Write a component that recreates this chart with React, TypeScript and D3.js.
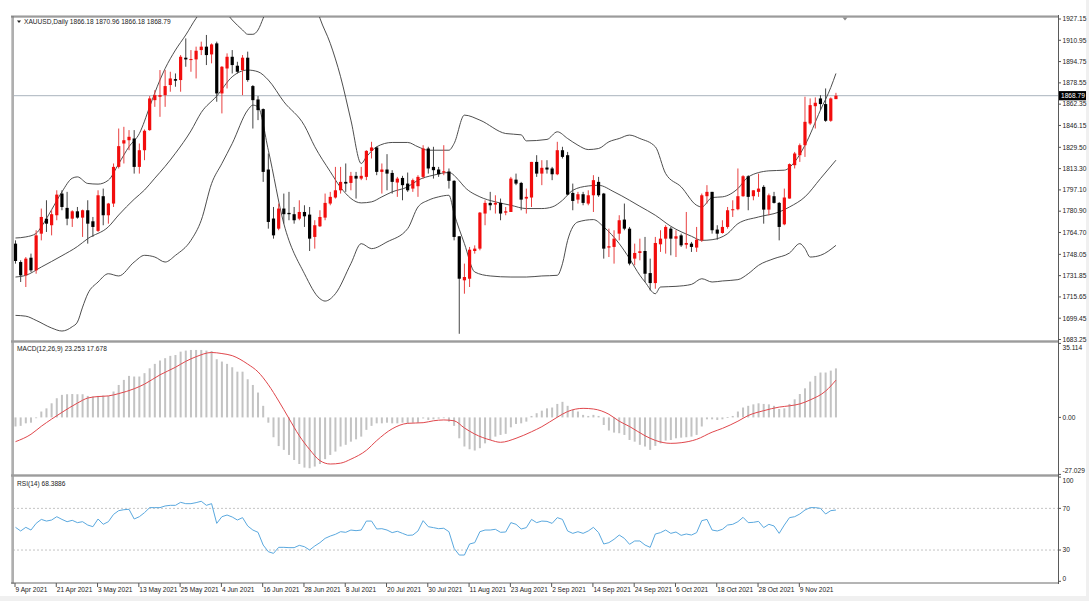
import React from "react";
import * as d3 from "d3";

// ---------- candle data (XAUUSD Daily, 9 Apr 2021 .. 18 Nov 2021) ----------
const opens = [1756.2,1742.2,1732.1,1745.5,1735.9,1763.8,1775.2,1770.2,1777.8,1794.3,1783.4,1775.2,1780.8,1776.0,1781.6,1773.2,1765.9,1792.3,1777.8,1786.7,
1814.6,1832.4,1834.9,1836.2,1814.6,1827.3,1842.6,1865.4,1868.0,1869.2,1876.9,1881.4,1880.7,1897.7,1895.9,1896.4,1903.5,1906.1,1900.2,1908.6,
1870.5,1889.5,1898.4,1891.6,1888.3,1897.7,1876.1,1865.9,1858.6,1812.6,1775.3,1767.6,1782.9,1779.6,1778.6,1775.2,1780.3,1778.3,1761.3,1769.4,
1776.0,1786.7,1791.3,1796.8,1803.2,1802.4,1807.8,1805.7,1807.0,1826.8,1829.4,1810.8,1812.6,1810.0,1802.7,1806.2,1801.9,1798.1,1799.9,1807.0,
1828.6,1814.6,1812.6,1810.3,1811.1,1804.0,1761.8,1728.3,1729.5,1750.6,1752.4,1779.1,1787.2,1785.9,1787.2,1779.8,1780.3,1804.9,1802.4,1790.5,
1791.3,1818.4,1809.5,1814.1,1813.4,1809.0,1827.3,1823.5,1794.8,1789.7,1793.8,1786.7,1793.0,1803.2,1794.3,1753.2,1753.7,1763.8,1774.5,1767.6,
1744.8,1749.1,1750.6,1733.8,1726.2,1755.7,1760.0,1767.6,1760.0,1762.5,1755.4,1756.2,1753.2,1758.7,1792.3,1795.6,1766.9,1764.3,1768.9,1781.6,
1782.4,1792.3,1807.5,1792.3,1795.6,1799.4,1782.1,1792.3,1787.2,1770.9,1790.5,1815.9,1823.5,1831.1,1847.6,1860.8,1866.7,1862.4,1849.7,1866.18];
const highs = [1758.7,1743.5,1746.0,1748.6,1766.4,1782.9,1789.2,1781.6,1796.8,1796.8,1795.6,1781.6,1784.1,1782.1,1789.2,1776.5,1796.8,1798.1,1787.2,1817.2,
1843.8,1845.1,1842.6,1842.6,1832.4,1843.1,1868.5,1873.0,1888.3,1888.3,1887.0,1885.7,1899.7,1912.4,1903.5,1906.1,1909.9,1915.0,1908.6,1909.9,
1891.3,1901.0,1903.5,1894.6,1899.7,1902.3,1876.9,1868.5,1859.1,1824.8,1784.1,1786.7,1794.3,1795.6,1784.1,1789.2,1785.4,1784.1,1774.0,1781.6,
1794.3,1795.6,1814.6,1814.6,1817.2,1810.8,1810.8,1814.6,1827.3,1833.7,1829.9,1817.2,1824.3,1812.1,1807.0,1807.8,1810.3,1805.7,1808.3,1831.1,
1829.9,1829.9,1814.6,1831.1,1813.4,1804.5,1761.8,1741.0,1753.7,1754.9,1780.3,1789.2,1795.6,1793.0,1790.5,1784.1,1807.0,1809.5,1803.2,1798.1,
1818.4,1823.5,1819.7,1819.7,1814.6,1833.7,1829.9,1826.0,1801.9,1795.6,1795.6,1796.8,1808.3,1807.0,1794.8,1767.6,1766.4,1777.8,1786.7,1768.9,
1756.2,1760.0,1761.3,1744.8,1761.3,1766.4,1770.2,1768.9,1766.4,1763.8,1780.3,1757.5,1768.9,1794.3,1800.7,1795.6,1770.2,1774.0,1784.1,1789.2,
1813.4,1808.3,1808.3,1796.8,1809.5,1800.7,1794.3,1795.6,1787.9,1798.1,1817.2,1826.0,1832.4,1868.0,1866.7,1867.5,1869.2,1874.3,1867.5,1870.96];
const lows = [1741.0,1727.0,1723.2,1734.6,1733.3,1758.7,1765.1,1762.5,1774.0,1781.6,1770.2,1768.9,1775.2,1761.3,1756.2,1761.3,1765.1,1770.2,1771.4,1784.1,
1813.4,1817.2,1827.3,1809.5,1809.5,1819.7,1842.1,1860.3,1852.7,1860.3,1871.8,1875.6,1871.8,1890.8,1887.0,1881.9,1899.7,1892.1,1893.4,1864.2,
1855.3,1874.3,1885.7,1885.7,1869.2,1879.4,1843.8,1850.2,1803.2,1767.6,1760.0,1766.4,1771.4,1774.0,1771.4,1774.0,1768.9,1750.6,1752.4,1768.9,
1774.0,1785.4,1790.5,1794.3,1795.6,1796.8,1790.5,1804.5,1804.5,1821.0,1808.3,1794.3,1796.8,1794.3,1791.8,1789.2,1795.6,1795.6,1791.8,1805.7,
1809.5,1805.7,1807.0,1808.3,1798.1,1758.7,1687.6,1718.1,1723.2,1748.6,1751.1,1770.2,1781.6,1779.1,1774.0,1777.8,1780.3,1800.7,1781.6,1779.1,
1784.1,1807.0,1800.7,1809.5,1804.5,1808.3,1821.0,1793.0,1781.6,1786.7,1785.4,1785.4,1780.3,1791.8,1744.8,1746.0,1741.0,1758.7,1766.4,1739.7,
1739.7,1743.5,1727.0,1720.6,1721.9,1749.9,1748.6,1747.3,1746.0,1753.7,1752.4,1749.9,1749.9,1757.5,1786.7,1763.8,1759.2,1763.8,1767.6,1776.5,
1781.6,1791.8,1781.6,1789.2,1791.8,1771.4,1777.8,1786.7,1758.7,1770.2,1790.5,1813.4,1818.4,1822.2,1846.4,1843.8,1857.8,1848.9,1848.9,1866.18];
const closes = [1743.0,1732.1,1744.8,1735.9,1762.5,1776.5,1771.4,1778.6,1793.5,1784.1,1775.2,1780.8,1776.0,1781.6,1771.4,1768.9,1793.0,1777.8,1786.7,1814.6,
1830.4,1834.9,1837.5,1814.6,1827.3,1842.1,1866.7,1869.2,1869.2,1876.1,1881.9,1880.2,1898.4,1896.4,1896.7,1903.0,1906.1,1899.7,1907.8,1870.5,
1890.8,1898.4,1892.1,1887.0,1897.7,1880.7,1865.4,1857.8,1810.8,1772.7,1762.5,1782.9,1778.6,1778.6,1774.0,1780.3,1777.0,1760.0,1770.2,1776.5,
1787.2,1791.8,1796.8,1803.2,1801.9,1807.8,1805.7,1807.8,1826.8,1829.4,1810.8,1812.6,1809.5,1803.2,1805.7,1800.7,1796.8,1804.5,1807.0,1828.6,
1813.4,1812.1,1809.0,1811.3,1804.0,1761.3,1729.5,1730.8,1751.6,1752.4,1779.8,1787.2,1785.4,1787.2,1779.1,1780.8,1805.7,1801.9,1789.7,1791.8,
1818.4,1809.5,1813.9,1812.6,1809.0,1827.3,1822.2,1793.5,1788.7,1793.8,1787.2,1793.0,1804.5,1793.0,1752.4,1754.2,1760.0,1774.0,1767.6,1741.0,
1749.1,1750.4,1733.3,1726.2,1756.7,1760.0,1768.9,1760.0,1761.8,1754.9,1756.7,1753.7,1759.2,1793.0,1795.6,1766.4,1763.8,1768.9,1781.6,1782.4,
1792.3,1807.5,1791.8,1796.8,1798.1,1782.1,1793.0,1787.2,1768.9,1791.3,1816.7,1824.8,1831.1,1848.9,1861.6,1863.4,1862.4,1849.7,1866.7,1868.79];

// ---------- Bollinger bands as [bar, price] ----------
const bbUpper: [number, number][] = [[0,1760.5],[2,1761.3],[4,1764],[5,1769],[7,1782],[9,1795.6],[11,1806],[12,1807],[14,1802],[16,1801.5],[18,1804.5],[20,1817],[22,1830],[24,1840],[26,1860.3],[27,1871],[29,1889.5],[31,1903.5],[33,1915],[35,1927.7],[37,1937],[39,1938],[41,1931],[42,1926.4],[44,1918.8],[45,1915.5],[46,1915.5],[47,1918.8],[48,1927.7],[50,1948],[52,1962],[54,1966],[56,1960],[58,1940],[59,1927.7],[61,1908.6],[63,1883.2],[65,1850.2],[67,1817.2],[68,1822.2],[70,1829.9],[73,1833.2],[76,1833.2],[78,1829.9],[80,1827.3],[84,1827.3],[85,1832.4],[87,1854.0],[90,1850.2],[95,1840.0],[98,1839.0],[99,1834.4],[103,1835.5],[105,1841.3],[107,1836.2],[109,1831.1],[111,1827.8],[113,1828.6],[115,1833.7],[117,1836.2],[119,1838.8],[121,1836.2],[124,1829.9],[126,1809.5],[129,1799.4],[132,1785.4],[133,1784.1],[135,1791.3],[137,1791.8],[140,1798.1],[142,1807.0],[146,1811.6],[149,1812.1],[151,1818.4],[153,1831.1],[156,1857.8],[158,1875],[159,1885.7]];
const bbMiddle: [number, number][] = [[0,1730.8],[2,1732.1],[5,1738.4],[9,1747],[12,1754],[14,1760],[18,1769],[20,1778],[23,1790],[25,1797],[27,1806],[29,1815],[31,1825],[34,1842],[36,1856],[39,1868.5],[42,1883.2],[45,1888.3],[47,1887.0],[49,1880.7],[52,1864.2],[56,1846],[58,1830],[61,1811],[63,1799],[67,1787.2],[69,1788.0],[71,1791.8],[73,1795.6],[76,1799.4],[78,1804.5],[81,1808.3],[84,1810.3],[86,1804],[87,1799.4],[90,1791.8],[93,1788.0],[96,1785.4],[99,1782.9],[102,1782.9],[104,1784.1],[106,1789.2],[108,1796.8],[111,1800.1],[113,1800.6],[116,1795.6],[119,1789.2],[121,1784.6],[124,1777.8],[127,1769.4],[131,1761.8],[133,1758.7],[135,1759.2],[138,1763.8],[140,1771.4],[144,1776.5],[148,1780.3],[150,1784.1],[153,1791.8],[156,1805.7],[159,1819.7]];
const bbLower: [number, number][] = [[0,1701.6],[2,1701],[4,1697.8],[7,1692],[9,1689.7],[11,1693],[12,1696.5],[13,1707.9],[14,1718],[16,1727],[18,1733.3],[20,1731.6],[23,1742.2],[25,1747.3],[27,1746.0],[29,1742.2],[31,1747.3],[34,1758.7],[36,1774.0],[38,1801.9],[40,1817.2],[42,1832.4],[45,1857.8],[46,1861.6],[47,1860.3],[49,1827.3],[52,1771.4],[56,1733.3],[59,1714.3],[60,1712.5],[62,1718.1],[65,1741.0],[67,1756.2],[69,1752.4],[72,1757.5],[76,1767.6],[78,1784.1],[80,1789.2],[82,1791.8],[84,1793.0],[85,1779.1],[87,1756.2],[89,1734.6],[92,1731.6],[96,1730.8],[99,1730.8],[102,1731.6],[105,1732.1],[106,1740.9],[107,1758.7],[109,1772.7],[112,1774.5],[114,1768.9],[117,1756.2],[119,1744.8],[121,1732.1],[122,1727],[124,1718.1],[125,1723.2],[128,1723.7],[131,1725.2],[133,1729.5],[135,1727.0],[137,1727.8],[140,1728.8],[142,1733.3],[144,1739.7],[147,1744.8],[150,1749.1],[152,1756.2],[153,1752.4],[154,1746.0],[156,1747.3],[159,1754.9]];

// ---------- MACD(12,26,9) ----------
const macdMain = [-4.3,-4.0,-2.8,-2.5,-0.2,2.8,4.3,6.7,9.1,10.7,11.0,11.1,11.0,11.0,10.2,9.9,10.2,10.4,10.2,12.3,
15.4,17.8,19.7,19.4,19.4,21.0,23.3,25.4,27.0,28.1,29.2,29.6,31.2,31.7,32.0,32.0,32.0,31.7,31.5,27.6,
26.5,25.4,23.8,21.7,21.7,18.1,15.4,11.8,5.5,-2.5,-9.4,-13.6,-15.4,-17.8,-20.2,-22.1,-23.8,-24.1,-23.3,-22.1,
-19.8,-17.8,-16.2,-13.8,-13.0,-11.5,-10.4,-9.1,-5.9,-4.0,-2.8,-2.8,-2.5,-2.8,-2.8,-2.5,-2.8,-2.5,-2.5,-0.5,
-1.2,-0.9,-0.6,-0.3,-2.0,-4.0,-9.9,-13.8,-15.1,-15.7,-14.6,-12.3,-10.7,-9.1,-8.3,-7.8,-4.7,-3.1,-2.8,-2.0,
0.7,2.0,3.2,4.3,4.7,6.4,7.4,5.5,3.6,2.8,1.2,0.7,1.2,0.7,-3.6,-6.2,-7.2,-7.5,-8.3,-10.7,
-11.5,-13.0,-13.8,-15.4,-13.5,-12.3,-11.0,-10.7,-9.9,-9.6,-9.4,-9.1,-8.3,-4.3,-0.9,-0.9,-1.2,-0.9,0.1,0.7,
2.8,4.7,5.5,6.2,6.7,6.4,6.2,5.5,4.0,4.3,6.4,8.6,11.1,13.8,17.0,19.7,21.3,21.3,22.2,23.253];
const macdSignal: [number, number][] = [[0,-11.5],[3,-8.0],[5,-4.2],[7,-0.8],[9,2.4],[12,6.8],[14,9.2],[16,9.9],[18,10.2],[20,11.3],[23,13.6],[25,15.8],[28,20.2],[31,23.8],[33,26.6],[35,28.8],[38,30.8],[40,30.3],[42,29.3],[45,25.3],[47,21.6],[49,15.5],[51,7.8],[53,-0.5],[55,-8.7],[57,-15.2],[59,-20.5],[61,-22.1],[63,-21.7],[65,-19.8],[68,-15.6],[70,-11.0],[73,-5.4],[76,-2.8],[79,-2.5],[81,-1.6],[83,-1.2],[85,-1.6],[87,-5.0],[89,-7.9],[92,-10.7],[94,-11.8],[97,-9.9],[100,-6.8],[102,-4.4],[105,0.1],[107,2.8],[110,4.3],[112,4.0],[115,1.5],[117,-1.8],[119,-4.3],[122,-8.7],[124,-10.9],[127,-12.3],[129,-12.0],[132,-10.4],[135,-7.0],[137,-5.2],[140,-1.8],[142,0.9],[145,3.2],[148,4.9],[150,5.5],[152,6.4],[154,8.3],[157,12.5],[159,17.678]];

// ---------- RSI(14) ----------
const rsi = [51.8,48.3,51.8,49.2,55.6,59.4,57.8,58.8,62.0,59.4,57.2,58.5,56.3,57.2,54.0,52.4,59.8,54.7,57.2,64.2,
67.8,68.7,69.1,59.8,62.0,65.9,70.7,70.7,70.7,72.3,72.9,72.9,75.8,74.5,74.5,75.5,76.8,72.9,74.5,55.6,
62.0,63.6,61.7,58.8,61.1,53.1,49.2,47.0,34.8,28.4,26.8,32.6,32.6,32.3,32.3,34.5,33.2,30.0,33.9,37.1,
41.2,43.4,45.1,47.6,47.0,49.2,48.6,49.2,57.8,57.8,50.2,50.5,49.2,46.7,48.0,46.0,44.1,44.4,48.3,58.2,
52.4,51.5,50.5,50.9,47.6,31.6,25.2,25.2,35.8,37.1,47.6,49.2,49.2,49.9,47.0,47.3,56.3,54.7,50.2,51.5,
59.4,56.3,57.8,57.5,55.6,61.1,59.4,48.3,46.0,47.6,46.0,48.3,51.8,46.7,35.8,37.1,40.3,44.4,41.2,35.5,
38.7,38.7,34.8,32.6,45.4,46.7,49.2,46.0,47.3,44.1,45.4,44.4,46.7,58.2,59.4,49.2,48.3,49.9,54.0,54.7,
57.2,61.4,56.3,56.6,57.5,51.5,54.7,53.1,46.0,54.0,61.1,62.0,64.6,68.4,70.7,70.7,70.0,64.6,67.8,68.3886];

// ---------- axis labels ----------
const priceTicks = [1927.15,1910.95,1894.75,1878.55,1862.35,1846.15,1829.50,1813.30,1797.10,1780.90,1764.70,1748.05,1731.85,1715.65,1699.45,1683.25];
const dateLabels = ["9 Apr 2021","21 Apr 2021","3 May 2021","13 May 2021","25 May 2021","4 Jun 2021","16 Jun 2021","28 Jun 2021","8 Jul 2021","20 Jul 2021","30 Jul 2021","11 Aug 2021","23 Aug 2021","2 Sep 2021","14 Sep 2021","24 Sep 2021","6 Oct 2021","18 Oct 2021","28 Oct 2021","9 Nov 2021"];
const dateLabelBars = [0,8,16,24,32,40,48,56,64,72,80,88,96,104,112,120,128,136,144,152];
const macdTicks = [{ v: 35.114, t: "35.114", dy: 4 }, { v: 0, t: "0.00", dy: 0 }, { v: -27.029, t: "-27.029", dy: -4 }];
const rsiTicks = [{ v: 100, t: "100", dy: 3.5 }, { v: 70, t: "70", dy: 0 }, { v: 30, t: "30", dy: 0 }, { v: 0, t: "0", dy: -3 }];
const lastPrice = 1868.79;

const FONT = "'Liberation Sans', Arial, sans-serif";

export default function App() {
  const W = 1089, H = 601;
  const plotL = 13, plotR = 1058;
  const mainTop = 17, mainBot = 340;
  const macdTop = 343, macdBot = 474;
  const rsiTop = 476.5, rsiBot = 582.5;

  const xS = d3.scaleLinear().domain([0, 159]).range([15.5, 15.5 + 5.16 * 159]);
  const yP = d3.scaleLinear().domain([1683.25, 1927.15]).range([339.5, 19]);
  const yM = d3.scaleLinear().domain([-27.029, 35.114]).range([474.4, 343.4]);
  const yR = d3.scaleLinear().domain([0, 100]).range([581.3, 477.1]);

  const bandLine = d3.line<[number, number]>().x(d => xS(d[0])).y(d => yP(d[1])).curve(d3.curveMonotoneX);
  const sigLine = d3.line<[number, number]>().x(d => xS(d[0])).y(d => yM(d[1])).curve(d3.curveMonotoneX);
  const rsiLine = d3.line<number>().x((_, i) => xS(i)).y(d => yR(d));

  const textStyle = { fontFamily: FONT, fontSize: 6.6, fill: "#222" } as React.CSSProperties;

  return (
    <div style={{ position: "absolute", left: 0, top: 0, width: W, height: H, background: "#fff" }}>
      <svg width={W} height={H} viewBox={`0 0 ${W} ${H}`} style={{ display: "block" }}>
        <defs>
          <clipPath id="clipMain"><rect x={plotL + 1} y={mainTop} width={plotR - plotL - 1} height={mainBot - mainTop} /></clipPath>
          <clipPath id="clipMacd"><rect x={plotL + 1} y={macdTop} width={plotR - plotL - 1} height={macdBot - macdTop} /></clipPath>
          <clipPath id="clipRsi"><rect x={plotL + 1} y={rsiTop} width={plotR - plotL - 1} height={rsiBot - rsiTop} /></clipPath>
        </defs>
        <rect x={0} y={0} width={W} height={H} fill="#fff" />
        <rect x={0} y={596} width={W} height={5} fill="#f0f0f0" />
        <rect x={1086} y={0} width={3} height={H} fill="#f0f0f0" />

        {/* frame */}
        <line x1={11.5} x2={11.5} y1={15} y2={584} stroke="#c8c8c8" />
        <line x1={13} x2={13} y1={15} y2={584} stroke="#7a7a7a" strokeWidth={1.2} />
        <line x1={11} x2={plotR} y1={15.5} y2={15.5} stroke="#c8c8c8" />
        <line x1={11} x2={plotR} y1={16.8} y2={16.8} stroke="#7a7a7a" strokeWidth={1.2} />
        <rect x={11} y={340.3} width={plotR - 11} height={2.4} fill="#9c9c9c" />
        <rect x={11} y={474.3} width={plotR - 11} height={2.4} fill="#9c9c9c" />
        <line x1={11} x2={plotR} y1={583} y2={583} stroke="#6a6a6a" />
        <line x1={plotR + 0.5} x2={plotR + 0.5} y1={15} y2={584} stroke="#5a5a5a" />

        {/* ---------- main panel ---------- */}
        <g clipPath="url(#clipMain)">
          <line x1={plotL} x2={plotR} y1={yP(lastPrice)} y2={yP(lastPrice)} stroke="#a9b3bd" strokeWidth={1} />
          <path d={bandLine(bbUpper) || ""} fill="none" stroke="#3a3a3a" strokeWidth={0.9} />
          <path d={bandLine(bbMiddle) || ""} fill="none" stroke="#3a3a3a" strokeWidth={0.9} />
          <path d={bandLine(bbLower) || ""} fill="none" stroke="#3a3a3a" strokeWidth={0.9} />
          {closes.map((c, i) => {
            const o = opens[i];
            const up = c >= o;
            const cx = xS(i);
            const top = yP(Math.max(o, c));
            const bot = yP(Math.min(o, c));
            const col = up ? "#f20d0d" : "#000";
            return (
              <g key={i}>
                <line x1={cx} x2={cx} y1={yP(highs[i])} y2={yP(lows[i])} stroke={up ? "#e84040" : "#444"} strokeWidth={1} />
                <rect x={cx - 1.6} y={top} width={3.2} height={Math.max(1, bot - top)} fill={col} />
              </g>
            );
          })}
        </g>
        {/* header */}
        <path d="M17,20.5 L21,20.5 L19,23 Z" fill="#222" />
        <text x={24} y={24} style={textStyle}>XAUUSD,Daily  1866.18 1870.96 1866.18 1868.79</text>
        <path d="M842.5,17.5 L847.5,17.5 L845,20.5 Z" fill="#8a8a8a" />

        {/* price axis */}
        {priceTicks.map((p, i) => (
          <g key={i}>
            <line x1={plotR} x2={plotR + 3} y1={yP(p)} y2={yP(p)} stroke="#555" />
            <text x={plotR + 4.5} y={yP(p) + 2.3} style={textStyle}>{p.toFixed(2)}</text>
          </g>
        ))}
        <rect x={plotR + 1} y={yP(lastPrice) - 4.6} width={27} height={9.2} fill="#000" />
        <text x={plotR + 3} y={yP(lastPrice) + 2.4} style={{ ...textStyle, fill: "#fff" }}>{lastPrice.toFixed(2)}</text>

        {/* ---------- MACD panel ---------- */}
        <g clipPath="url(#clipMacd)">
          {macdMain.map((v, i) => {
            const y0 = yM(0), y1 = yM(v);
            return <rect key={i} x={xS(i) - 1} y={Math.min(y0, y1)} width={2} height={Math.max(0.8, Math.abs(y1 - y0))} fill="#c3c3c3" />;
          })}
          <path d={sigLine(macdSignal) || ""} fill="none" stroke="#e0474c" strokeWidth={1} />
        </g>
        <text x={17} y={351} style={textStyle}>MACD(12,26,9) 23.253 17.678</text>
        {macdTicks.map((t, i) => (
          <g key={i}>
            <line x1={plotR} x2={plotR + 3} y1={yM(t.v)} y2={yM(t.v)} stroke="#555" />
            <text x={plotR + 4.5} y={yM(t.v) + 2.3 + t.dy} style={textStyle}>{t.t}</text>
          </g>
        ))}

        {/* ---------- RSI panel ---------- */}
        <g clipPath="url(#clipRsi)">
          <line x1={plotL} x2={plotR} y1={yR(70)} y2={yR(70)} stroke="#c4c4c4" strokeDasharray="2,2" />
          <line x1={plotL} x2={plotR} y1={yR(30)} y2={yR(30)} stroke="#c4c4c4" strokeDasharray="2,2" />
          <path d={rsiLine(rsi) || ""} fill="none" stroke="#5aa8de" strokeWidth={1} />
        </g>
        <text x={17} y={485.5} style={textStyle}>RSI(14) 68.3886</text>
        {rsiTicks.map((t, i) => (
          <g key={i}>
            <line x1={plotR} x2={plotR + 3} y1={yR(t.v)} y2={yR(t.v)} stroke="#555" />
            <text x={plotR + 4.5} y={yR(t.v) + 2.3 + t.dy} style={textStyle}>{t.t}</text>
          </g>
        ))}

        {/* ---------- time axis ---------- */}
        {dateLabels.map((lab, i) => {
          const xx = xS(dateLabelBars[i]);
          return (
            <g key={i}>
              <line x1={xx - 0.5} x2={xx - 0.5} y1={583} y2={587} stroke="#555" />
              <text x={xx} y={591.5} style={textStyle}>{lab}</text>
            </g>
          );
        })}
      </svg>
    </div>
  );
}
